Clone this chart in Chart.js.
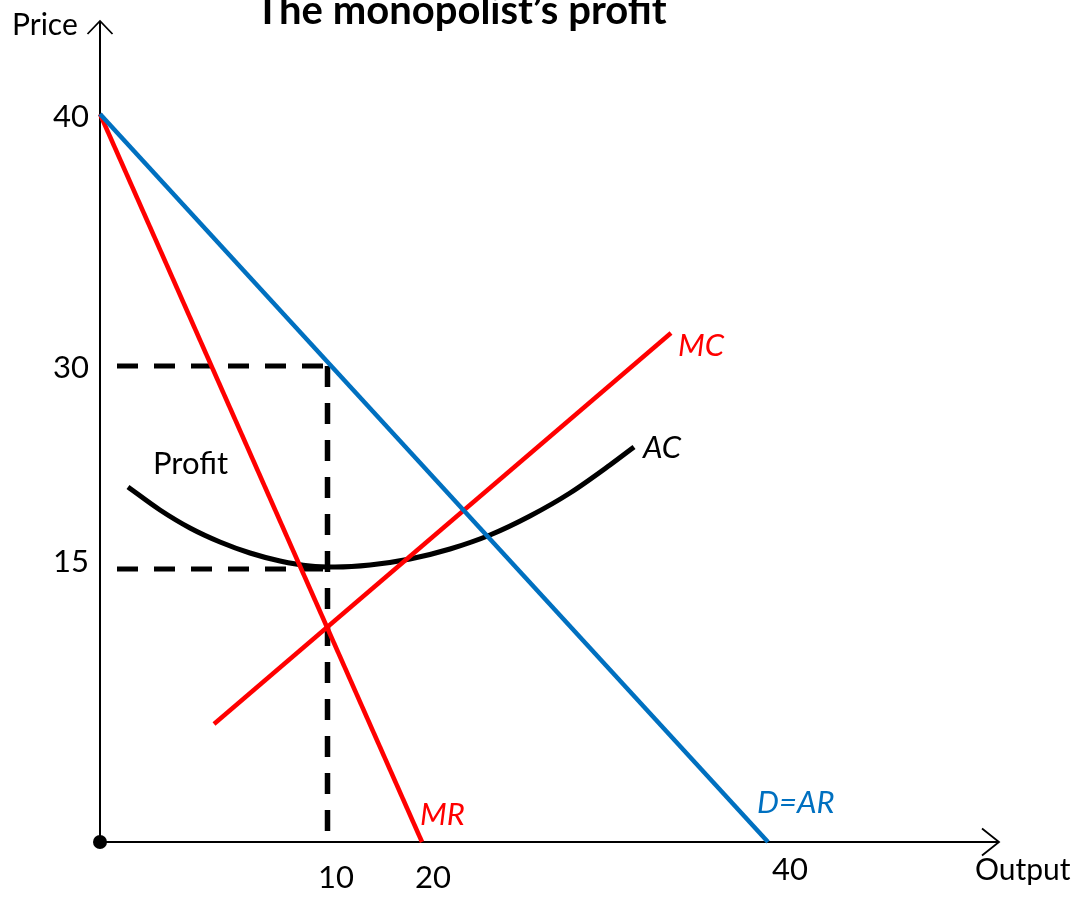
<!DOCTYPE html>
<html>
<head>
<meta charset="utf-8">
<script src="https://cdn.jsdelivr.net/npm/chart.js@4"></script>
<style>
  html, body { margin: 0; padding: 0; background: #fff; }
  #wrap { width: 1090px; height: 899px; }
</style>
</head>
<body>
<div id="wrap"><canvas id="chart" width="1090" height="899"></canvas></div>
<script>
// The original is a sketch, not drawn to scale, so the curves live in
// "diagram units" (0-90 across, 0-83 up) and the price/output numbers are
// just labels placed where the sketch puts them.

// demand (D = AR) and marginal revenue, both start at price 40 on the axis
const demandX = [0, 66.8];
const demandY = [72.8, 0];
const mrX = [0, 32.2];
const mrY = [72.8, 0];

// marginal cost
const mcX = [11.4, 57.1];
const mcY = [11.8, 50.9];

// average cost (U shape, read point by point)
const acX = [2.8, 6.0, 9.0, 12.0, 15.0, 18.0, 21.0, 23.5, 27.0, 31.0, 35.0, 39.0, 43.0, 47.0, 51.0, 53.4];
const acY = [35.5, 33.2, 31.4, 30.0, 28.9, 28.1, 27.6, 27.5, 27.7, 28.3, 29.3, 30.7, 32.6, 34.9, 37.7, 39.5];

// profit rectangle guides: Q = 10, P = 30, AC = 15
const qStar = 22.75;
const pStar = 47.6;
const acStar = 27.3;
const guideStart = 1.7;

// tick labels
const priceLabels = ['40', '30', '15'];
const priceLabelAt = [71.5, 46.4, 27.0];
const outputLabels = ['10', '20', '40'];
const outputLabelAt = [23.6, 33.3, 69.0];
const outputLabelY = [-4.6, -4.6, -3.8];

const RED = '#ff0000';
const BLUE = '#0070c0';
const FONT = 'Lato, "Open Sans", sans-serif';

function pts(xs, ys) {
    return xs.map((x, i) => ({ x: x, y: ys[i] }));
}

function lineSet(data, color, width, order, extra) {
    return Object.assign({
        data: data,
        showLine: true,
        borderColor: color,
        backgroundColor: color,
        borderWidth: width,
        pointRadius: 0,
        fill: false,
        clip: false,
        order: order
    }, extra || {});
}

const dash = { borderDash: [21, 16], borderCapStyle: 'butt' };

const datasets = [
    lineSet(pts(demandX, demandY), BLUE, 4.5, 1),
    lineSet(pts(mrX, mrY), RED, 4.5, 2),
    lineSet(pts(mcX, mcY), RED, 4.5, 3),
    lineSet(pts(acX, acY), '#000', 5, 4, { cubicInterpolationMode: 'monotone' }),
    lineSet([{ x: guideStart, y: pStar }, { x: qStar, y: pStar }], '#000', 5, 6, dash),
    lineSet([{ x: qStar, y: pStar }, { x: qStar, y: 0 }], '#000', 5.5, 6, dash),
    lineSet([{ x: guideStart, y: acStar }, { x: qStar, y: acStar }], '#000', 5, 6, dash),
    // axes with arrow heads
    lineSet([{ x: 0, y: 0 }, { x: 0, y: 82.1 }], '#000', 2, 8),
    lineSet([{ x: -1.25, y: 80.8 }, { x: 0, y: 82.1 }, { x: 1.25, y: 80.8 }], '#000', 1.8, 8),
    lineSet([{ x: 0, y: 0 }, { x: 89.9, y: 0 }], '#000', 2, 8),
    lineSet([{ x: 88.2, y: 1.35 }, { x: 89.9, y: 0 }, { x: 88.2, y: -1.35 }], '#000', 1.8, 8),
    {
        data: [{ x: 0, y: 0 }],
        pointRadius: 7,
        pointBackgroundColor: '#000',
        pointBorderWidth: 0,
        clip: false,
        order: 0
    }
];

const texts = [
    { text: 'The monopolist\u2019s profit', x: 36.1, y: 81.8, font: 'bold 40px ' + FONT, color: '#000', align: 'center' },
    { text: 'Price', x: -8.8, y: 80.7, font: '30px ' + FONT, color: '#000', align: 'left' },
    { text: 'Output', x: 87.5, y: -3.8, font: '30px ' + FONT, color: '#000', align: 'left' },
    { text: 'Profit', x: 5.3, y: 36.8, font: '31px ' + FONT, color: '#000', align: 'left' },
    { text: 'MC', x: 57.8, y: 48.6, font: 'italic 31px ' + FONT, color: RED, align: 'left' },
    { text: 'AC', x: 54.3, y: 38.4, font: 'italic 31px ' + FONT, color: '#000', align: 'left' },
    { text: 'MR', x: 32.0, y: 1.7, font: 'italic 31px ' + FONT, color: RED, align: 'left' },
    { text: 'D=AR', x: 65.7, y: 2.9, font: 'italic 31px ' + FONT, color: BLUE, align: 'left' }
];
priceLabels.forEach((t, i) => {
    texts.push({ text: t, x: -1.1, y: priceLabelAt[i], font: '31px ' + FONT, color: '#000', align: 'right' });
});
outputLabels.forEach((t, i) => {
    texts.push({ text: t, x: outputLabelAt[i], y: outputLabelY[i], font: '31px ' + FONT, color: '#000', align: 'center' });
});

// draws title, labels and tick numbers at diagram positions
const textPlugin = {
    id: 'diagramText',
    afterDatasetsDraw(chart) {
        const ctx = chart.ctx;
        const xs = chart.scales.x;
        const ys = chart.scales.y;
        ctx.save();
        ctx.textBaseline = 'alphabetic';
        texts.forEach(t => {
            ctx.font = t.font;
            ctx.fillStyle = t.color;
            ctx.textAlign = t.align;
            ctx.fillText(t.text, xs.getPixelForValue(t.x), ys.getPixelForValue(t.y));
        });
        ctx.restore();
    }
};

new Chart(document.getElementById('chart'), {
    type: 'scatter',
    data: { datasets: datasets },
    options: {
        responsive: false,
        devicePixelRatio: 1,
        animation: false,
        layout: { padding: { left: 100, right: 90, top: 12, bottom: 57 } },
        plugins: {
            legend: { display: false },
            tooltip: { enabled: false }
        },
        scales: {
            x: { type: 'linear', min: 0, max: 90, display: false },
            y: { type: 'linear', min: 0, max: 83, display: false }
        }
    },
    plugins: [textPlugin]
});
</script>
</body>
</html>
